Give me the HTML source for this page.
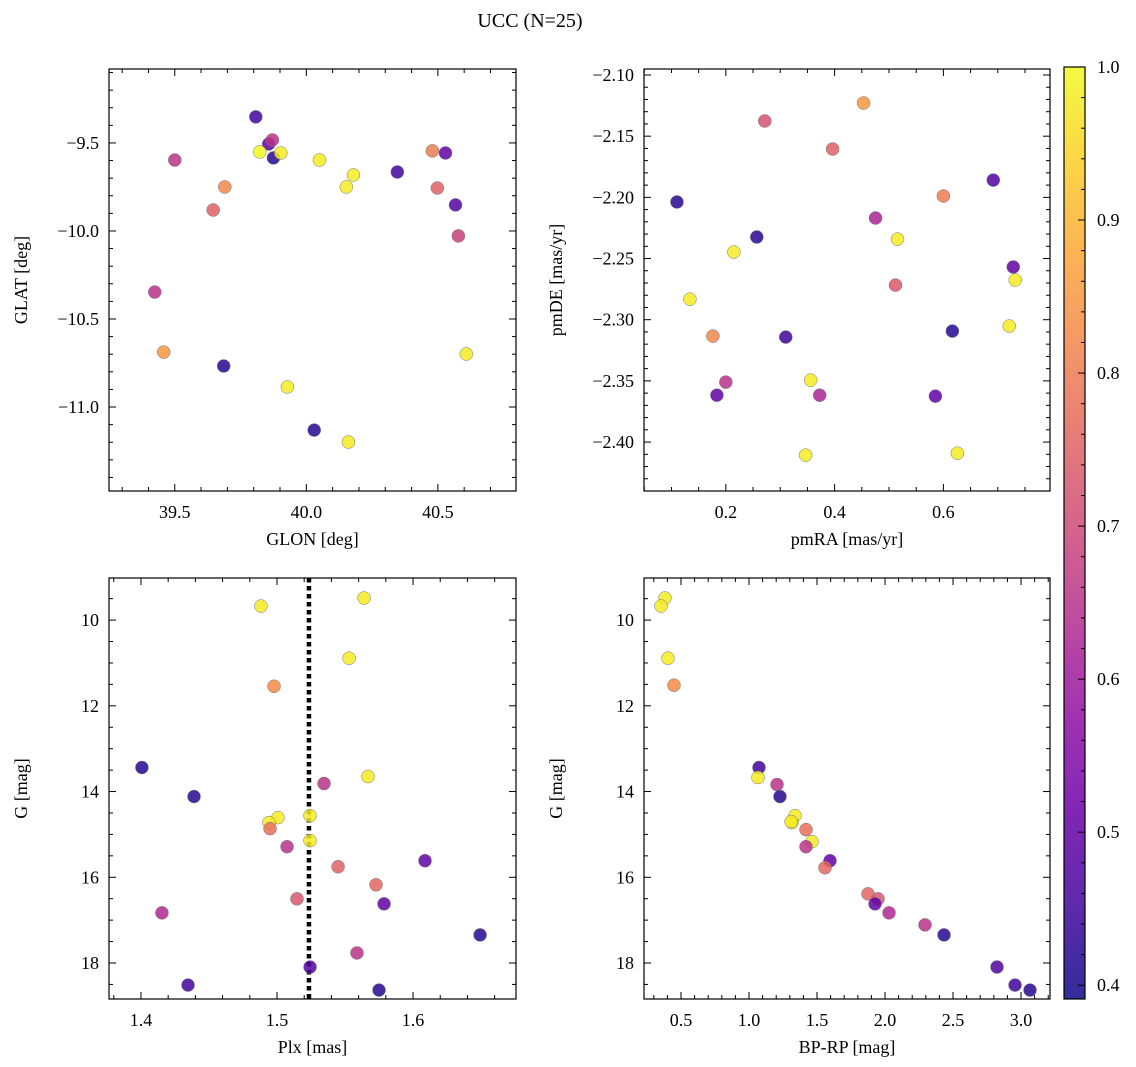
<!DOCTYPE html>
<html><head><meta charset="utf-8">
<style>
html,body{margin:0;padding:0;background:#fff;}
svg{display:block;font-family:"Liberation Serif","DejaVu Serif",serif;}
</style></head>
<body>
<svg id="fig" width="1136" height="1067" viewBox="0 0 1136 1067" xmlns="http://www.w3.org/2000/svg">
<defs><linearGradient id="cbg" x1="0" y1="1" x2="0" y2="0"></linearGradient></defs>
<text x="530" y="27" font-size="20" text-anchor="middle">UCC (N=25)</text>
</svg>
<script>
// ---- data ----
const glon=[39.808,39.857,39.871,39.875,39.823,39.903,39.5,39.69,39.646,40.05,40.179,40.152,40.346,40.479,40.529,40.498,40.567,40.578,39.424,39.458,39.686,40.608,39.928,40.03,40.16];
const glat=[-9.352,-9.506,-9.483,-9.585,-9.551,-9.557,-9.597,-9.75,-9.881,-9.597,-9.682,-9.75,-9.665,-9.545,-9.557,-9.756,-9.852,-10.028,-10.347,-10.688,-10.767,-10.699,-10.886,-11.131,-11.199];
const probTL=[0.45,0.5,0.65,0.42,1.0,0.98,0.65,0.82,0.75,0.98,0.98,0.98,0.45,0.8,0.5,0.75,0.48,0.68,0.65,0.85,0.42,0.98,0.98,0.42,0.98];
const pmra=[0.4532,0.2716,0.3963,0.1101,0.6917,0.6,0.4752,0.2569,0.5156,0.2147,0.7284,0.7321,0.1339,0.5119,0.1761,0.3101,0.7211,0.6165,0.2,0.356,0.1835,0.3725,0.5853,0.3468,0.6257];
const pmde=[-2.1229,-2.1376,-2.1605,-2.2038,-2.1859,-2.1989,-2.2169,-2.2324,-2.2341,-2.2447,-2.2569,-2.2676,-2.2832,-2.2717,-2.3134,-2.3142,-2.3052,-2.3093,-2.351,-2.3494,-2.3617,-2.3617,-2.3625,-2.4107,-2.4091];
const probTR=[0.85,0.72,0.75,0.42,0.48,0.8,0.62,0.42,0.98,0.98,0.5,0.98,0.98,0.73,0.82,0.45,0.98,0.42,0.65,0.98,0.5,0.62,0.5,0.98,0.98];
const plx=[1.4882,1.564,1.553,1.4978,1.4007,1.439,1.5346,1.5669,1.5243,1.5007,1.4941,1.4949,1.5074,1.5243,1.5449,1.6088,1.5728,1.5147,1.5787,1.4154,1.5588,1.6493,1.5243,1.4346,1.575];
const gBL=[9.672,9.485,10.889,11.544,13.439,14.117,13.813,13.649,14.561,14.608,14.725,14.865,15.287,15.146,15.754,15.614,16.175,16.503,16.62,16.83,17.766,17.345,18.094,18.515,18.632];
const probBL=[0.98,0.98,0.98,0.83,0.42,0.42,0.65,0.98,0.98,0.98,0.98,0.78,0.65,0.98,0.75,0.5,0.76,0.73,0.5,0.63,0.65,0.42,0.48,0.45,0.42];
const bprp=[0.3824,0.3529,0.4044,0.4485,1.0735,1.0662,1.2059,1.2279,1.3382,1.3162,1.31,1.4191,1.4632,1.4191,1.5956,1.5588,1.875,1.9485,1.9265,2.0294,2.2941,2.4338,2.8235,2.9559,3.0662];
const gBR=[9.485,9.672,10.889,11.52,13.439,13.672,13.836,14.117,14.561,14.725,14.7,14.889,15.17,15.287,15.614,15.778,16.386,16.503,16.62,16.83,17.111,17.345,18.094,18.515,18.632];
const probBR=[0.98,0.98,0.98,0.83,0.45,0.98,0.65,0.42,0.98,0.98,0.98,0.78,0.98,0.65,0.5,0.76,0.76,0.73,0.5,0.63,0.65,0.42,0.48,0.45,0.42];
const plxMedian=1.5235;
const cbTicks=[0.4,0.5,0.6,0.7,0.8,0.9,1.0];

const NS="http://www.w3.org/2000/svg";
const svg=document.getElementById('fig');
function mk(tag,attrs,parent){const e=document.createElementNS(NS,tag);for(const k in attrs)e.setAttribute(k,attrs[k]);(parent||svg).appendChild(e);return e;}
const plasma=[[13,8,135],[65,4,157],[106,0,168],[143,13,164],[177,42,144],[204,71,120],[225,100,98],[242,132,75],[252,166,54],[252,206,37],[240,249,33]];
const CMIN=0.391,CMAX=1.0;
function cmap(p){let t=(p-CMIN)/(CMAX-CMIN);t=Math.max(0,Math.min(1,t))*10;const i=Math.min(9,Math.floor(t)),f=t-i;const a=plasma[i],b=plasma[i+1];return 'rgb('+a.map((v,k)=>Math.round(v+(b[k]-v)*f)).join(',')+')';}
function fmt(v,d){return (v<0?'\u2212':'')+Math.abs(v).toFixed(d);}

function panel(o){
  const g=mk('g',{});
  
  
  const X=v=>o.l+(v-o.x0)/(o.x1-o.x0)*(o.r-o.l);
  const Y=v=>o.inv? o.t+(v-o.y0)/(o.y1-o.y0)*(o.b-o.t) : o.b-(v-o.y0)/(o.y1-o.y0)*(o.b-o.t);
  const eps=1e-9;
  function ticksFor(a0,a1,step){const out=[];let s=Math.ceil((Math.min(a0,a1)-eps)/step);for(let v=s*step;v<=Math.max(a0,a1)+eps;v=(++s)*step)out.push(+v.toFixed(6));return out;}
  ticksFor(o.x0,o.x1,o.xmin).forEach(v=>{const x=X(v),maj=Math.abs(v/o.xmaj-Math.round(v/o.xmaj))<1e-6;const L=maj?7:4;
    mk('line',{x1:x,x2:x,y1:o.b,y2:o.b-L,stroke:'#000','stroke-width':1},g);mk('line',{x1:x,x2:x,y1:o.t,y2:o.t+L,stroke:'#000','stroke-width':1},g);
    if(maj){const tx=mk('text',{x:x,y:o.b+27,'font-size':18,'text-anchor':'middle'},g);tx.textContent=fmt(v,o.xd);}});
  ticksFor(o.y0,o.y1,o.ymin).forEach(v=>{const y=Y(v),maj=Math.abs(v/o.ymaj-Math.round(v/o.ymaj))<1e-6;const L=maj?7:4;
    mk('line',{x1:o.l,x2:o.l+L,y1:y,y2:y,stroke:'#000','stroke-width':1},g);mk('line',{x1:o.r,x2:o.r-L,y1:y,y2:y,stroke:'#000','stroke-width':1},g);
    if(maj){const tx=mk('text',{x:o.l-10,y:y+6,'font-size':18,'text-anchor':'end'},g);tx.textContent=fmt(v,o.yd);}});
  if(o.vline!==undefined){const ln=mk('line',{x1:X(o.vline),x2:X(o.vline),y1:o.t,y2:o.b,stroke:'#000','stroke-width':4.5,'stroke-dasharray':'4.5,3.5'},g);}
  o.xs.forEach((v,i)=>{const c=mk('circle',{cx:X(v),cy:Y(o.ys[i]),r:6.5,fill:cmap(o.ps[i]),'fill-opacity':0.85,stroke:'#777','stroke-width':0.5},g);
    
    });
  const fr=mk('rect',{x:o.l,y:o.t,width:o.r-o.l,height:o.b-o.t,fill:'none',stroke:'#000','stroke-width':1.2},g);
  
  const xl=mk('text',{x:(o.l+o.r)/2,y:o.b+54,'font-size':18,'text-anchor':'middle'},g);xl.textContent=o.xlab;
  
  const yx=o.l-82,yy=(o.t+o.b)/2;const yl=mk('text',{x:yx,y:yy,'font-size':18,'text-anchor':'middle',transform:'rotate(-90 '+yx+' '+yy+')'},g);yl.textContent=o.ylab;
  
}
panel({name:'glon-glat-panel',l:109,r:516,t:69,b:491,x0:39.25,x1:40.797,y0:-11.477,y1:-9.08,xmaj:0.5,xmin:0.1,ymaj:0.5,ymin:0.1,xd:1,yd:1,xs:glon,ys:glat,ps:probTL,xlab:'GLON [deg]',ylab:'GLAT [deg]'});
panel({name:'pm-panel',l:644,r:1050,t:69,b:491,x0:0.0495,x1:0.796,y0:-2.44,y1:-2.0951,xmaj:0.2,xmin:0.05,ymaj:0.05,ymin:0.01,xd:1,yd:2,xs:pmra,ys:pmde,ps:probTR,xlab:'pmRA [mas/yr]',ylab:'pmDE [mas/yr]'});
panel({name:'plx-g-panel',l:109,r:516,t:578,b:999,x0:1.3765,x1:1.6757,y0:9.018,y1:18.84,inv:true,xmaj:0.1,xmin:0.02,ymaj:2,ymin:0.5,xd:1,yd:0,xs:plx,ys:gBL,ps:probBL,vline:plxMedian,xlab:'Plx [mas]',ylab:'G [mag]'});
panel({name:'cmd-panel',l:644,r:1050,t:578,b:999,x0:0.228,x1:3.213,y0:9.018,y1:18.84,inv:true,xmaj:0.5,xmin:0.1,ymaj:2,ymin:0.5,xd:1,yd:0,xs:bprp,ys:gBR,ps:probBR,xlab:'BP-RP [mag]',ylab:'G [mag]'});
// colorbar
const grad=document.getElementById('cbg');
for(let i=0;i<=20;i++){const p=CMIN+(CMAX-CMIN)*i/20;mk('stop',{offset:(i/20),'stop-color':cmap(p),'stop-opacity':0.85},grad);}
const cb=mk('g',{});
const cT=67,cB=999,cL=1064,cR=1085;const CY=v=>cB-(v-CMIN)/(CMAX-CMIN)*(cB-cT);
mk('rect',{x:cL,y:cT,width:cR-cL,height:cB-cT,fill:'url(#cbg)'},cb);
for(let k=20;k<=50;k++){const v=k/50;if(v<CMIN)continue;const y=CY(v);const maj=k%5===0;mk('line',{x1:cR,x2:cR-(maj?7:4),y1:y,y2:y,stroke:'#000','stroke-width':1},cb);}
cbTicks.forEach(v=>{const t=mk('text',{x:1097,y:CY(v)+6,'font-size':18},cb);t.textContent=v.toFixed(1);});
mk('rect',{x:cL,y:cT,width:cR-cL,height:cB-cT,fill:'none',stroke:'#000','stroke-width':1.2},cb);
</script>
</body></html>
